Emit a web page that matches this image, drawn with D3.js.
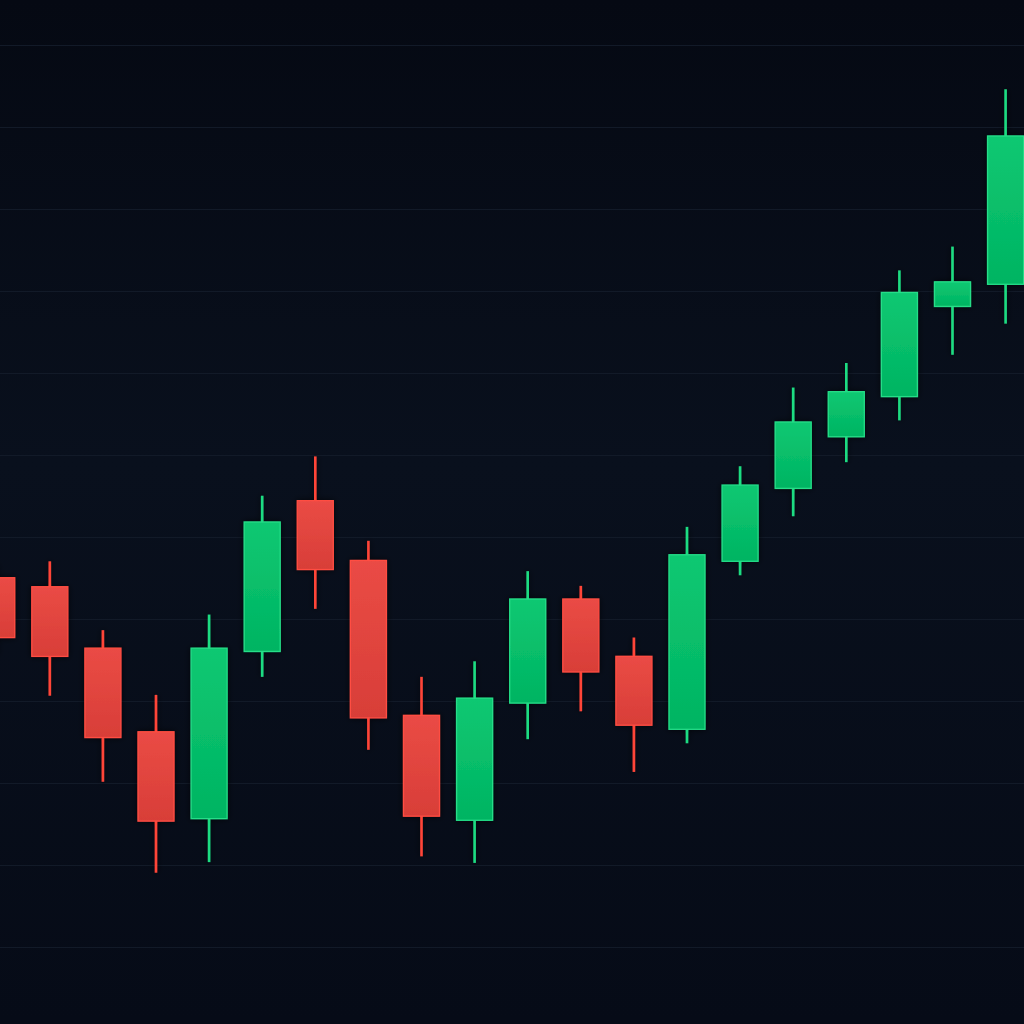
<!DOCTYPE html>
<html>
<head>
<meta charset="utf-8">
<script src="https://cdn.jsdelivr.net/npm/d3@7"></script>
<style>
  html, body { margin: 0; padding: 0; background: #060b16; }
  svg { display: block; }
</style>
</head>
<body>
<svg id="chart" width="1024" height="1024"></svg>
<script>
// ---- data (price units) ----
const periods = ["P0","P1","P2","P3","P4","P5","P6","P7","P8","P9","P10","P11","P12","P13","P14","P15","P16","P17","P18","P19"];
const open  = [135.0, 133.9, 126.4, 116.2, 105.6, 126.0, 144.4, 137.1, 118.2, 105.4, 119.7, 132.4, 125.4, 116.5, 137.0, 145.9, 152.2, 157.1, 168.1, 170.8];
const high  = [136.6, 137.0, 128.6, 120.7, 130.5, 145.0, 149.8, 139.5, 122.9, 124.8, 135.8, 134.0, 127.7, 141.2, 148.6, 158.2, 161.2, 172.5, 175.4, 194.6];
const low   = [125.6, 120.6, 110.1,  99.0, 100.3, 122.9, 131.2, 114.0, 101.0, 100.2, 115.3, 118.7, 111.3, 114.8, 135.3, 142.5, 149.1, 154.2, 162.2, 166.0];
const close = [127.7, 125.4, 115.5, 105.3, 126.4, 141.8, 136.0, 117.9, 105.9, 120.3, 132.4, 123.5, 117.0, 137.8, 146.3, 154.0, 157.7, 169.8, 171.1, 188.9];
const gridTicks = [90, 100, 110, 120, 130, 140, 150, 160, 170, 180, 190, 200];

const W = 1024, H = 1024;
const svg = d3.select("#chart");

const defs = svg.append("defs");
const bg = defs.append("linearGradient").attr("id","bg").attr("x1",0).attr("y1",0).attr("x2",0).attr("y2",1);
bg.append("stop").attr("offset","0%").attr("stop-color","#050913");
bg.append("stop").attr("offset","45%").attr("stop-color","#09101d");
bg.append("stop").attr("offset","100%").attr("stop-color","#060b17");

const gRed = defs.append("linearGradient").attr("id","gRed").attr("x1",0).attr("y1",0).attr("x2",0).attr("y2",1);
gRed.append("stop").attr("offset","0%").attr("stop-color","#ea4b45");
gRed.append("stop").attr("offset","100%").attr("stop-color","#d83e38");
const gGreen = defs.append("linearGradient").attr("id","gGreen").attr("x1",0).attr("y1",0).attr("x2",0).attr("y2",1);
gGreen.append("stop").attr("offset","0%").attr("stop-color","#0cc872");
gGreen.append("stop").attr("offset","100%").attr("stop-color","#02b462");

const shadow = defs.append("filter").attr("id","shadow").attr("x","-50%").attr("y","-20%").attr("width","200%").attr("height","140%");
shadow.append("feDropShadow").attr("dx",0).attr("dy",0).attr("stdDeviation",3).attr("flood-color","#000").attr("flood-opacity",0.7);

svg.append("rect").attr("width",W).attr("height",H).attr("fill","url(#bg)");

// scales
const x = d3.scalePoint().domain(periods).range([-3.3, 1005.6]);
const y = d3.scaleLinear().domain([90, 200]).range([946.5, 45]);
const bodyW = 36;

// grid
svg.append("g").selectAll("line").data(gridTicks).join("line")
  .attr("x1", 0).attr("x2", W)
  .attr("y1", d => Math.round(y(d)) + 0.5).attr("y2", d => Math.round(y(d)) + 0.5)
  .attr("stroke", "#121a28").attr("stroke-width", 1.2);

const data = periods.map((p, i) => ({ p, o: open[i], h: high[i], l: low[i], c: close[i] }));
const up = d => d.c >= d.o;

const candles = svg.append("g").selectAll("g").data(data).join("g").attr("filter","url(#shadow)");

candles.append("line")
  .attr("x1", d => x(d.p)).attr("x2", d => x(d.p))
  .attr("y1", d => y(d.h)).attr("y2", d => y(d.l))
  .attr("stroke", d => up(d) ? "#1fdc82" : "#ff4538")
  .attr("stroke-width", 2.6);

candles.append("rect")
  .attr("x", d => x(d.p) - bodyW / 2)
  .attr("y", d => y(Math.max(d.o, d.c)))
  .attr("width", bodyW)
  .attr("height", d => Math.max(1, Math.abs(y(d.o) - y(d.c))))
  .attr("fill", d => up(d) ? "url(#gGreen)" : "url(#gRed)")
  .attr("stroke", d => up(d) ? "#25dd88" : "#ff4d42")
  .attr("stroke-width", 1.3);
</script>
</body>
</html>
